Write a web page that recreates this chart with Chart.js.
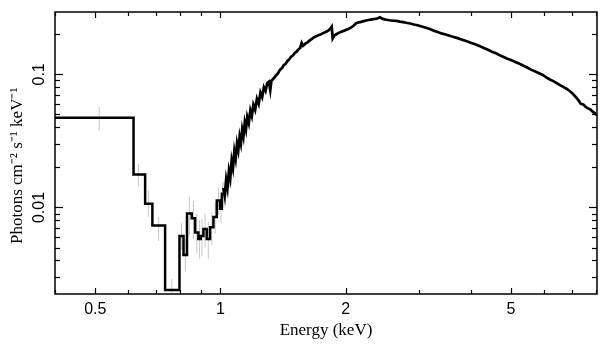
<!DOCTYPE html>
<html>
<head>
<meta charset="utf-8">
<script src="https://cdn.jsdelivr.net/npm/chart.js@4"></script>
<style>
  html, body { margin: 0; padding: 0; background: #fff; }
  canvas { display: block; }
</style>
</head>
<body>
<canvas id="c" width="609" height="357"></canvas>
<script>
// ---- Data (energy in keV, flux in photons cm^-2 s^-1 keV^-1) ----
// Low-energy coarse bins: lower bin edge and flux (last entry closes the final bin)
const binEdges = [0.38, 0.618, 0.659, 0.686, 0.736, 0.797, 0.815, 0.831, 0.853, 0.869,
                  0.885, 0.897, 0.910, 0.927, 0.944, 0.962, 0.980, 0.998, 1.008, 1.016];
const binFlux  = [0.0473, 0.0177, 0.01066, 0.00733, 0.0024, 0.0061, 0.0044, 0.0090, 0.0083, 0.0065,
                  0.0058, 0.0061, 0.0069, 0.0058, 0.0071, 0.0085, 0.0113, 0.0098, 0.0127, 0.0127];

// Steep rise (fine bins, noisy)
const riseEnergy = [1.016, 1.024, 1.032, 1.040, 1.048, 1.056, 1.064, 1.072, 1.080, 1.088,
                    1.096, 1.104, 1.112, 1.120, 1.128, 1.136, 1.144, 1.152, 1.160, 1.170,
                    1.180, 1.190, 1.200, 1.212, 1.224, 1.236, 1.248, 1.260, 1.272, 1.284,
                    1.296, 1.308, 1.318, 1.326, 1.336, 1.348];
const riseFlux   = [0.0140, 0.0122, 0.0162, 0.0140, 0.0188, 0.0165, 0.0225, 0.0198, 0.0265, 0.0232,
                    0.0302, 0.0268, 0.0340, 0.0302, 0.0385, 0.0342, 0.0432, 0.0386, 0.0478, 0.0430,
                    0.0535, 0.0485, 0.0590, 0.0540, 0.0655, 0.0600, 0.0730, 0.0675, 0.0800, 0.0750,
                    0.0860, 0.0880, 0.0760, 0.0895, 0.0915, 0.0945];

// Approach to the peak
const peakEnergy = [1.362, 1.376, 1.390, 1.405, 1.420, 1.435, 1.450, 1.465, 1.480, 1.495,
                    1.510, 1.525, 1.540, 1.555, 1.568, 1.580, 1.600, 1.620, 1.640, 1.660,
                    1.680, 1.700, 1.720, 1.740, 1.760, 1.780, 1.800, 1.820, 1.838, 1.852,
                    1.862, 1.880, 1.900, 1.920, 1.940, 1.960, 1.980, 2.000, 2.030, 2.060,
                    2.090, 2.120, 2.150, 2.180, 2.210, 2.240, 2.270, 2.300, 2.330, 2.360,
                    2.390, 2.420, 2.450, 2.480, 2.510];
const peakFlux   = [0.0985, 0.1020, 0.1080, 0.1110, 0.1170, 0.1200, 0.1260, 0.1300, 0.1360, 0.1390,
                    0.1450, 0.1480, 0.1540, 0.1580, 0.1720, 0.1640, 0.1700, 0.1740, 0.1800, 0.1850,
                    0.1900, 0.1930, 0.1970, 0.1990, 0.2030, 0.2060, 0.2100, 0.2140, 0.2200, 0.2280,
                    0.1860, 0.1960, 0.2000, 0.2040, 0.2070, 0.2100, 0.2120, 0.2150, 0.2190, 0.2240,
                    0.2320, 0.2420, 0.2460, 0.2480, 0.2510, 0.2540, 0.2560, 0.2580, 0.2600, 0.2610,
                    0.2640, 0.2680, 0.2620, 0.2590, 0.2570];

// High-energy tail
const tailEnergy = [2.55, 2.60, 2.65, 2.70, 2.75, 2.80, 2.86, 2.92, 2.98, 3.05,
                    3.12, 3.19, 3.26, 3.33, 3.40, 3.48, 3.56, 3.64, 3.72, 3.80,
                    3.90, 4.00, 4.10, 4.20, 4.30, 4.40, 4.50, 4.60, 4.70, 4.80,
                    4.90, 5.00, 5.12, 5.24, 5.36, 5.48, 5.60, 5.72, 5.84, 5.96,
                    6.08, 6.20, 6.32, 6.44, 6.56, 6.68, 6.80, 6.92, 7.04, 7.16,
                    7.26, 7.36, 7.46, 7.56, 7.66, 7.76, 7.86, 7.96, 8.06, 8.20];
const tailFlux   = [0.2550, 0.2530, 0.2520, 0.2490, 0.2470, 0.2440, 0.2410, 0.2370, 0.2340, 0.2290,
                    0.2240, 0.2190, 0.2130, 0.2080, 0.2030, 0.1990, 0.1950, 0.1910, 0.1870, 0.1830,
                    0.1780, 0.1730, 0.1680, 0.1630, 0.1580, 0.1530, 0.1480, 0.1440, 0.1390, 0.1350,
                    0.1310, 0.1280, 0.1240, 0.1200, 0.1160, 0.1120, 0.1080, 0.1050, 0.1020, 0.0990,
                    0.0950, 0.0915, 0.0890, 0.0860, 0.0830, 0.0805, 0.0780, 0.0750, 0.0715, 0.0675,
                    0.0640, 0.0600, 0.0595, 0.0570, 0.0555, 0.0545, 0.0525, 0.0510, 0.0490, 0.0470];

// Error bars (light grey): bin centre, lower and upper flux
const errEnergy = [0.511, 0.635, 0.671, 0.710, 0.764, 0.806, 0.823, 0.842, 0.861, 0.877,
                   0.891, 0.903, 0.918, 0.935, 0.953, 0.971, 0.989, 1.003, 1.012, 1.020,
                   1.036, 1.052, 1.068, 1.084, 1.100, 1.116, 1.132, 1.148, 1.165, 1.185, 1.206];
const errLow    = [0.0380, 0.0143, 0.0085, 0.0056, 0.0020, 0.0048, 0.0033, 0.0062, 0.0058, 0.0045,
                   0.0041, 0.0043, 0.0050, 0.0041, 0.0052, 0.0064, 0.0088, 0.0076, 0.0102, 0.0100,
                   0.0122, 0.0142, 0.0178, 0.0208, 0.0248, 0.0283, 0.0328, 0.0372, 0.0418, 0.0478, 0.0528];
const errHigh   = [0.0568, 0.0213, 0.0134, 0.0085, 0.0029, 0.0076, 0.0058, 0.0120, 0.0112, 0.0090,
                   0.0080, 0.0082, 0.0090, 0.0078, 0.0092, 0.0108, 0.0140, 0.0122, 0.0155, 0.0155,
                   0.0185, 0.0210, 0.0250, 0.0290, 0.0325, 0.0365, 0.0415, 0.0465, 0.0515, 0.0565, 0.0625];

// Axis ranges and ticks
const xMin = 0.4, xMax = 8.05;
const yMin = 0.00224, yMax = 0.294;
const xTickValues = [0.5, 1, 2, 5];
const xTickLabels = ['0.5', '1', '2', '5'];
const xMinorTicks = [0.4, 0.6, 0.7, 0.8, 0.9, 3, 4, 6, 7, 8];
const yTickValues = [0.01, 0.1];
const yTickLabels = ['0.01', '0.1'];
const yMinorTicks = [0.003, 0.004, 0.005, 0.006, 0.007, 0.008, 0.009,
                     0.02, 0.03, 0.04, 0.05, 0.06, 0.07, 0.08, 0.09, 0.2];

// ---- Build datasets ----
const binPoints = binEdges.map((e, i) => ({x: e, y: binFlux[i]}));
const finePoints = [];
[[riseEnergy, riseFlux], [peakEnergy, peakFlux], [tailEnergy, tailFlux]]
  .forEach(([ex, fy]) => ex.forEach((e, i) => finePoints.push({x: e, y: fy[i]})));

const errPoints = [];
errEnergy.forEach((e, i) => {
  errPoints.push({x: e, y: errLow[i]}, {x: e, y: errHigh[i]}, {x: e, y: null});
});

// Frame with inward ticks on all four sides, positioned via the chart scales
const frameTicks = {
  id: 'frameTicks',
  afterDatasetsDraw(chart) {
    const {ctx, chartArea: a, scales: {x, y}} = chart;
    ctx.save();
    ctx.strokeStyle = '#000';
    ctx.lineWidth = 1.2;
    const seg = (x1, y1, x2, y2) => { ctx.beginPath(); ctx.moveTo(x1, y1); ctx.lineTo(x2, y2); ctx.stroke(); };
    const xt = (v, len) => {
      const p = Math.round(x.getPixelForValue(v)) + 0.5;
      if (p < a.left || p > a.right) return;
      seg(p, a.bottom, p, a.bottom - len);
      seg(p, a.top, p, a.top + len);
    };
    const yt = (v, len) => {
      const p = Math.round(y.getPixelForValue(v)) + 0.5;
      if (p < a.top || p > a.bottom) return;
      seg(a.left, p, a.left + len, p);
      seg(a.right, p, a.right - len, p);
    };
    xTickValues.forEach(v => xt(v, 6));
    xMinorTicks.forEach(v => xt(v, 4));
    yTickValues.forEach(v => yt(v, 8));
    yMinorTicks.forEach(v => yt(v, 5));
    ctx.lineWidth = 1.5;
    ctx.strokeRect(a.left, a.top, a.right - a.left, a.bottom - a.top);
    ctx.restore();
  }
};

new Chart(document.getElementById('c'), {
  type: 'line',
  data: {
    datasets: [
      { data: binPoints, borderColor: '#000', borderWidth: 2.5, stepped: 'before',
        pointRadius: 0, fill: false, order: 1 },
      { data: finePoints, borderColor: '#000', borderWidth: 2.7, stepped: false, tension: 0,
        pointRadius: 0, fill: false, order: 1 },
      { data: errPoints, borderColor: '#c8c8c8', borderWidth: 1, pointRadius: 0,
        spanGaps: false, fill: false, order: 2 }
    ]
  },
  options: {
    responsive: false,
    animation: false,
    events: [],
    layout: { padding: { top: 12, right: 12, left: 0, bottom: 0 } },
    plugins: { legend: { display: false }, tooltip: { enabled: false } },
    scales: {
      x: {
        type: 'logarithmic', position: 'bottom', min: xMin, max: xMax,
        grid: { display: false, drawTicks: false, tickLength: 0 }, border: { display: false },
        afterBuildTicks: s => { s.ticks = xTickValues.map(v => ({ value: v })); },
        afterFit: s => { s.height = 63; },
        ticks: {
          callback: (v, i) => xTickLabels[i],
          autoSkip: false, maxRotation: 0, minRotation: 0, padding: 6,
          color: '#000', font: { family: 'Liberation Sans', size: 16 }
        },
        title: {
          display: true, text: 'Energy (keV)', color: '#000',
          font: { family: 'Liberation Serif', size: 17 },
          padding: { top: 0, bottom: 16 }
        }
      },
      y: {
        type: 'logarithmic', position: 'left', min: yMin, max: yMax,
        grid: { display: false, drawTicks: false, tickLength: 0 }, border: { display: false },
        afterBuildTicks: s => { s.ticks = yTickValues.map(v => ({ value: v })); },
        afterFit: s => { s.width = 55; },
        ticks: {
          callback: (v, i) => yTickLabels[i],
          autoSkip: false, minRotation: 90, maxRotation: 90, crossAlign: 'center', padding: 0,
          color: '#000', font: { family: 'Liberation Sans', size: 16 }
        },
        title: {
          display: true, text: 'Photons cm\u207B\u00B2 s\u207B\u00B9 keV\u207B\u00B9      ', color: '#000',
          font: { family: 'Liberation Serif', size: 17 },
          padding: { top: 7, bottom: 0 }
        }
      }
    }
  },
  plugins: [frameTicks]
});
</script>
</body>
</html>
